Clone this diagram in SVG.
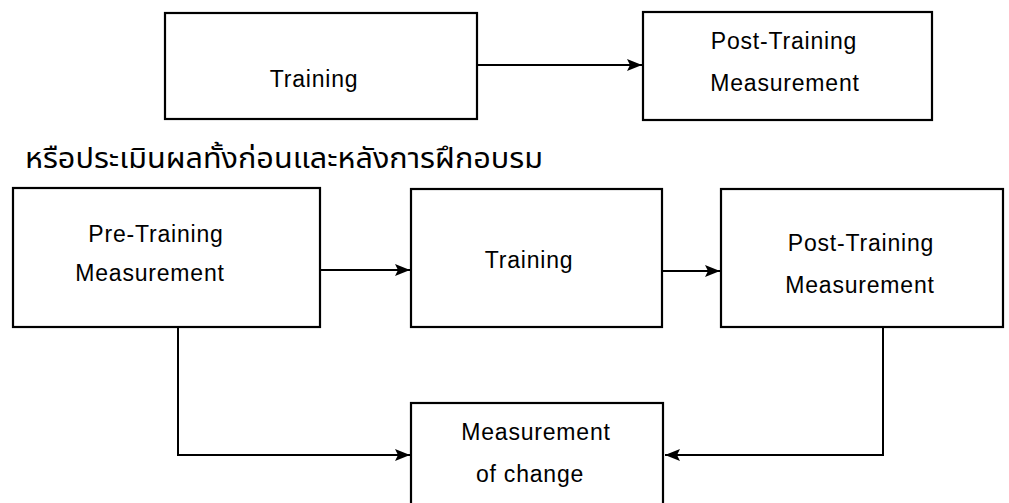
<svg xmlns="http://www.w3.org/2000/svg" width="1009" height="503" viewBox="0 0 1009 503">
  <style>
    .box { fill: #fff; stroke: #000; stroke-width: 2.2; }
    .lbl { font-family: "Liberation Sans", Arial, sans-serif; font-size: 23px; letter-spacing: 0.8px; fill: #000; text-anchor: middle; }
    .thai { font-family: "Noto Sans Thai", "Noto Sans", "DejaVu Sans", sans-serif; font-size: 28px; fill: #000; }
    .wire { fill: none; stroke: #000; stroke-width: 2; }
  </style>
  <defs>
    <marker id="arrow" markerUnits="userSpaceOnUse" markerWidth="16" markerHeight="12" refX="15" refY="6" orient="auto">
      <path d="M0,0 L15,6 L0,12 L3,6 z" fill="#000"/>
    </marker>
  </defs>
  <rect width="1009" height="503" fill="#fff"/>

  <!-- connectors -->
  <g id="connectors">
    <line class="wire" x1="478" y1="65" x2="642" y2="65" marker-end="url(#arrow)"/>
    <line class="wire" x1="321" y1="270" x2="410" y2="270" marker-end="url(#arrow)"/>
    <line class="wire" x1="663" y1="271" x2="720" y2="271" marker-end="url(#arrow)"/>
    <polyline class="wire" points="178,327 178,455 410,455" marker-end="url(#arrow)"/>
    <polyline class="wire" points="883,327 883,455 665,455" marker-end="url(#arrow)"/>
  </g>

  <!-- single-measure scheme -->
  <g id="top-training">
    <rect class="box" x="165" y="13" width="312" height="106"/>
    <text class="lbl" x="314" y="87">Training</text>
  </g>
  <g id="top-post">
    <rect class="box" x="643" y="12" width="289" height="108"/>
    <text class="lbl" x="784" y="49">Post-Training</text>
    <text class="lbl" x="785" y="91">Measurement</text>
  </g>

  <text id="caption" class="thai" x="25" y="168" textLength="518" lengthAdjust="spacingAndGlyphs">หรือประเมินผลทั้งก่อนและหลังการฝึกอบรม</text>

  <!-- before-and-after scheme -->
  <g id="pre">
    <rect class="box" x="13" y="188" width="307" height="139"/>
    <text class="lbl" x="156" y="242">Pre-Training</text>
    <text class="lbl" x="150" y="281">Measurement</text>
  </g>
  <g id="training">
    <rect class="box" x="411" y="189" width="251" height="138"/>
    <text class="lbl" x="529" y="268">Training</text>
  </g>
  <g id="post">
    <rect class="box" x="721" y="189" width="282" height="138"/>
    <text class="lbl" x="861" y="251">Post-Training</text>
    <text class="lbl" x="860" y="293">Measurement</text>
  </g>
  <g id="change">
    <rect class="box" x="411" y="403" width="252" height="110"/>
    <text class="lbl" x="536" y="440">Measurement</text>
    <text class="lbl" x="530" y="482">of change</text>
  </g>
</svg>
